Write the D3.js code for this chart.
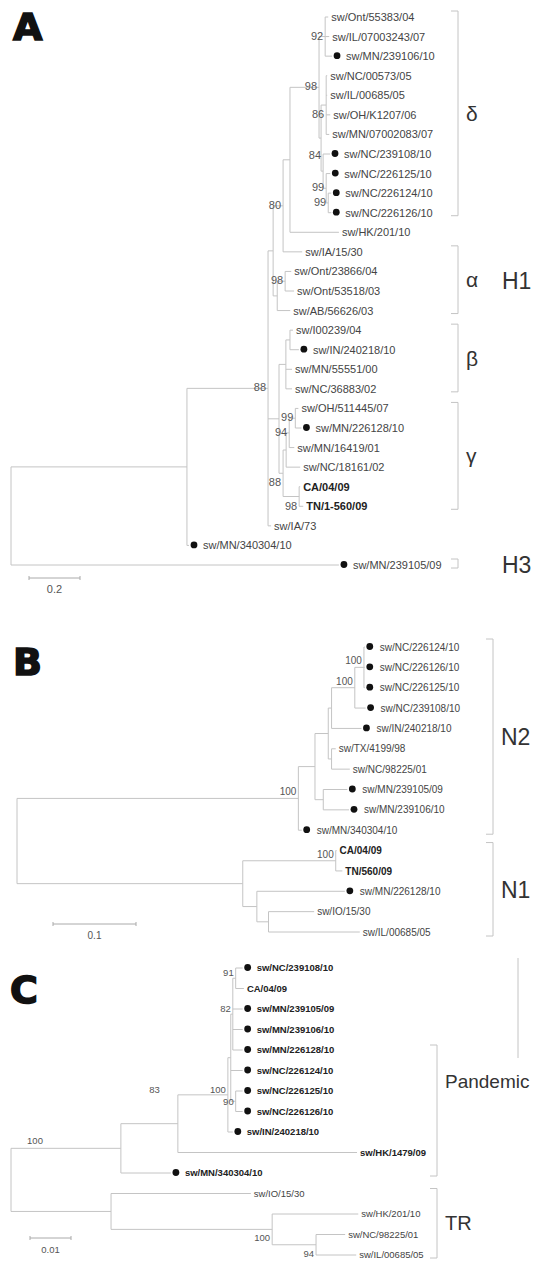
<!DOCTYPE html>
<html><head><meta charset="utf-8">
<script src="https://cdn.jsdelivr.net/npm/d3@7"></script>
<style>body{margin:0;background:#fff}svg{display:block}</style>
</head><body>
<svg id="c" width="539" height="1262"></svg>
<script>
// ---------------- Panel A (H1 / H3) ----------------
const aIds = ["R","a187","a268","a273","a80","a290","a320","a92",
 "sw/Ont/55383/04","sw/IL/07003243/07","sw/MN/239106/10",
 "ax","a86","sw/NC/00573/05","sw/IL/00685/05","sw/OH/K1207/06","sw/MN/07002083/07",
 "a84","sw/NC/239108/10","a99a","sw/NC/226125/10","a99b","sw/NC/226124/10","sw/NC/226126/10",
 "sw/HK/201/10","sw/IA/15/30",
 "aal","a98b","sw/Ont/23866/04","sw/Ont/53518/03","sw/AB/56626/03",
 "abg","abeta","ab1","sw/I00239/04","sw/IN/240218/10","sw/MN/55551/00","sw/NC/36883/02",
 "a88c","agA","a94","a99g","sw/OH/511445/07","sw/MN/226128/10","sw/MN/16419/01","sw/NC/18161/02",
 "apan","CA/04/09","TN/1-560/09",
 "sw/IA/73","sw/MN/340304/10","sw/MN/239105/09"];
const aParents = ["","R","a187","a268","a273","a80","a290","a320",
 "a92","a92","a92",
 "a320","ax","a86","a86","a86","a86",
 "ax","a84","a84","a99a","a99a","a99b","a99b",
 "a290","a80",
 "a273","aal","a98b","a98b","aal",
 "a268","abg","abeta","ab1","ab1","abeta","abeta",
 "abg","a88c","agA","a94","a99g","a99g","a94","agA",
 "a88c","apan","apan",
 "a268","a187","R"];
const aLengths = [0,0.690,0.318,0.020,0.039,0.027,0.114,0.024,
 0.012,0.016,0.027,
 0.008,0.020,0.004,0.004,0.016,0.012,
 0.008,0.027,0.012,0.016,0.008,0.012,0.012,
 0.192,0.075,
 0.016,0.031,0.024,0.035,0.051,
 0.043,0.027,0.016,0.012,0.035,0.024,0.024,
 0.016,0.012,0.012,0.024,0.012,0.024,0.020,0.055,
 0.063,0.004,0.016,
 0.012,0.008,1.286];
const aSupportNodes = ["a92","a320","a86","a84","a99a","a99b","a80","a98b","a268","a99g","a94","a88c","apan"];
const aSupportValues = [92,98,86,84,99,99,80,98,88,99,94,88,98];
const aDots = ["sw/MN/239106/10","sw/NC/239108/10","sw/NC/226125/10","sw/NC/226124/10","sw/NC/226126/10",
 "sw/IN/240218/10","sw/MN/226128/10","sw/MN/340304/10","sw/MN/239105/09"];
const aBold = ["CA/04/09","TN/1-560/09"];
const aCladeNames = ["δ","α","β","γ",""];
const aCladeFirst = ["sw/Ont/55383/04","sw/IA/15/30","sw/I00239/04","sw/OH/511445/07","sw/MN/239105/09"];
const aCladeLast  = ["sw/NC/226126/10","sw/AB/56626/03","sw/NC/36883/02","TN/1-560/09","sw/MN/239105/09"];
const aGroupNames = ["H1","H3"];
const aGroupFirst = ["sw/Ont/55383/04","sw/MN/239105/09"];
const aGroupLast  = ["sw/MN/340304/10","sw/MN/239105/09"];
const aScaleBar = 0.2;

// ---------------- Panel B (N2 / N1) ----------------
const bIds = ["R","b298","b315","bc","b329","b100b","b100a",
 "sw/NC/226124/10","sw/NC/226126/10","sw/NC/226125/10","sw/NC/239108/10","sw/IN/240218/10",
 "btx","sw/TX/4199/98","sw/NC/98225/01","bmn","sw/MN/239105/09","sw/MN/239106/10","sw/MN/340304/10",
 "b243","b336","CA/04/09","TN/560/09","b257","sw/MN/226128/10","b269","sw/IO/15/30","sw/IL/00685/05"];
const bParents = ["","R","b298","b315","bc","b329","b100b",
 "b100a","b100a","b100a","b100b","b329",
 "bc","btx","btx","b315","bmn","bmn","b298",
 "R","b243","b336","b336","b243","b257","b257","b269","b269"];
const bLengths = [0,0.339,0.020,0.016,0.004,0.028,0.011,
 0.001,0.001,0.001,0.013,0.036,
 0.004,0.005,0.022,0.010,0.029,0.031,0.004,
 0.272,0.112,0.001,0.008,0.017,0.106,0.014,0.055,0.110];
const bSupportNodes = ["b100a","b100b","b298","b336"];
const bSupportValues = [100,100,100,100];
const bDots = ["sw/NC/226124/10","sw/NC/226126/10","sw/NC/226125/10","sw/NC/239108/10","sw/IN/240218/10",
 "sw/MN/239105/09","sw/MN/239106/10","sw/MN/340304/10","sw/MN/226128/10"];
const bBold = ["CA/04/09","TN/560/09"];
const bCladeNames = ["N2","N1"];
const bCladeFirst = ["sw/NC/226124/10","CA/04/09"];
const bCladeLast  = ["sw/MN/340304/10","sw/IL/00685/05"];
const bScaleBar = 0.1;

// ---------------- Panel C ----------------
const cIds = ["R","c121","c178","c100","cbig","c82","c91",
 "sw/NC/239108/10","CA/04/09","sw/MN/239105/09","sw/MN/239106/10","sw/MN/226128/10",
 "sw/NC/226124/10","c90","sw/NC/226125/10","sw/NC/226126/10","sw/IN/240218/10",
 "sw/HK/1479/09","sw/MN/340304/10",
 "ctr","sw/IO/15/30","c272","sw/HK/201/10","c316","sw/NC/98225/01","sw/IL/00685/05"];
const cParents = ["","R","c121","c178","c100","cbig","c82",
 "c91","c91","c82","c82","c82",
 "cbig","cbig","c90","c90","c100",
 "c178","c121",
 "R","ctr","ctr","c272","c272","c316","c316"];
const cLengths = [0,0.0268,0.0139,0.0122,0.0007,0.0005,0.0007,
 0.0017,0.0020,0.0024,0.0024,0.0024,
 0.0029,0.0012,0.0017,0.0017,0.0012,
 0.0437,0.0122,
 0.0244,0.0341,0.0393,0.0210,0.0107,0.0071,0.0098];
const cSupportNodes = ["c91","c82","c90","c100","c178","c121","c272","c316"];
const cSupportValues = [91,82,90,100,83,100,100,94];
const cDots = ["sw/NC/239108/10","sw/MN/239105/09","sw/MN/239106/10","sw/MN/226128/10","sw/NC/226124/10",
 "sw/NC/226125/10","sw/NC/226126/10","sw/IN/240218/10","sw/MN/340304/10"];
const cBold = ["sw/NC/239108/10","CA/04/09","sw/MN/239105/09","sw/MN/239106/10","sw/MN/226128/10",
 "sw/NC/226124/10","sw/NC/226125/10","sw/NC/226126/10","sw/IN/240218/10","sw/HK/1479/09","sw/MN/340304/10"];
const cCladeNames = ["","TR"];
const cCladeFirst = ["sw/MN/226128/10","sw/IO/15/30"];
const cCladeLast  = ["sw/MN/340304/10","sw/IL/00685/05"];
const cGroupNames = ["Pandemic"];
const cGroupFirst = ["CA/04/09"];
const cGroupLast  = ["sw/MN/340304/10"];
const cScaleBar = 0.01;

// ---------------- drawing ----------------
const svg = d3.select("#c");
const LINE = "#c4c4c4", TXT = "#444", FONT = "'Liberation Sans', Arial, sans-serif";

function drawPanel(p) {
  const rows = p.ids.map((id, i) => ({id, parent: p.parents[i], len: p.lengths[i]}));
  const root = d3.stratify().id(d => d.id).parentId(d => d.parent)(rows);
  root.eachBefore(n => { n.dist = n.parent ? n.parent.dist + n.data.len : 0; });
  const leaves = root.leaves();
  const y = d3.scaleLinear().domain([0, leaves.length - 1]).range(p.yRange);
  const byId = new Map();
  leaves.forEach((l, i) => { l.yy = y(i); });
  root.eachAfter(n => { if (n.children) n.yy = (n.children[0].yy + n.children[n.children.length - 1].yy) / 2; byId.set(n.id, n); });
  const x = d3.scaleLinear().domain([0, p.unit]).range([p.x0, p.x0 + p.unitPx]);
  const g = svg.append("g");
  const lines = g.append("g").attr("stroke", LINE).attr("stroke-width", 1).attr("fill", "none");
  lines.selectAll(".h").data(root.descendants().filter(n => n.parent)).join("line")
    .attr("x1", n => x(n.parent.dist)).attr("x2", n => x(n.dist))
    .attr("y1", n => n.yy).attr("y2", n => n.yy);
  lines.selectAll(".v").data(root.descendants().filter(n => n.children)).join("line")
    .attr("x1", n => x(n.dist)).attr("x2", n => x(n.dist))
    .attr("y1", n => n.children[0].yy).attr("y2", n => n.children[n.children.length - 1].yy);
  // leaves
  const lg = g.append("g");
  leaves.forEach(l => {
    const dot = p.dots.includes(l.id);
    const bold = p.bold.includes(l.id);
    const tx = x(l.dist);
    if (dot) lg.append("circle").attr("cx", tx + p.dotGap).attr("cy", l.yy - 0.5).attr("r", p.r).attr("fill", "#111");
    lg.append("text").attr("x", tx + (dot ? p.dotLabelGap : 3)).attr("y", l.yy).attr("dy", "0.36em")
      .attr("font-family", FONT).attr("font-size", p.fs).attr("font-weight", bold ? "bold" : "normal")
      .attr("fill", bold ? "#222" : TXT).text(l.id);
  });
  // supports
  const place = p.place || {};
  p.supN.forEach((id, i) => {
    const n = byId.get(id);
    const k = place[id] || "def";
    let tx = x(n.dist) - 2, ty = n.yy + p.sdy, anchor = "end";
    if (k === "up") ty = n.yy + p.up;
    if (k === "down") ty = n.yy + p.down;
    if (k === "mid") ty = n.yy + p.sfs * 0.36;
    if (k === "top") { tx = x(n.dist) - 18; ty = n.children[0].yy - 2; }
    if (k === "start") { tx = x(n.parent.dist) + 24; anchor = "middle"; ty = n.yy - 4; }
    g.append("text").attr("x", tx).attr("y", ty).attr("text-anchor", anchor)
      .attr("font-family", FONT).attr("font-size", p.sfs).attr("fill", "#555").text(p.supV[i]);
  });
  // clade brackets
  const yOf = name => byId.get(name).yy;
  p.cladeNames.forEach((nm, i) => {
    const y1 = yOf(p.cladeFirst[i]) - p.bTop, y2 = yOf(p.cladeLast[i]) + p.bBot;
    g.append("path").attr("d", `M${p.bx - 7},${y1}H${p.bx}V${y2}H${p.bx - 7}`)
      .attr("stroke", LINE).attr("fill", "none");
    if (nm) g.append("text").attr("x", p.bx + 8).attr("y", (y1 + y2) / 2).attr("dy", "0.36em")
      .attr("font-family", FONT).attr("font-size", p.cfs).attr("fill", "#333").text(nm);
  });
  (p.groupNames || []).forEach((nm, i) => {
    const yc = (yOf(p.groupFirst[i]) + yOf(p.groupLast[i])) / 2;
    g.append("text").attr("x", p.gx).attr("y", yc).attr("dy", "0.36em")
      .attr("font-family", FONT).attr("font-size", p.gfs).attr("fill", "#333").text(nm);
  });
  // scale bar
  const sb = p.sb;
  const sx0 = p.sbx, sx1 = p.sbx + (x(sb) - x(0));
  g.append("path").attr("d", `M${sx0},${p.sby - 2}V${p.sby + 2}M${sx0},${p.sby}H${sx1}M${sx1},${p.sby - 2}V${p.sby + 2}`)
    .attr("stroke", "#aaa").attr("fill", "none");
  g.append("text").attr("x", (sx0 + sx1) / 2).attr("y", p.sby + 15).attr("text-anchor", "middle")
    .attr("font-family", FONT).attr("font-size", p.sfs).attr("fill", "#555").text(sb);
  // panel letter
  g.append("text").attr("x", p.lx).attr("y", p.ly).attr("font-family", "'DejaVu Sans', sans-serif")
    .attr("font-weight", "bold").attr("font-size", 38).attr("fill", "#111")
    .attr("stroke", "#111").attr("stroke-width", 1.6).text(p.letter);
  return byId;
}

drawPanel({ids: aIds, parents: aParents, lengths: aLengths, supN: aSupportNodes, supV: aSupportValues,
  dots: aDots, bold: aBold, cladeNames: aCladeNames, cladeFirst: aCladeFirst, cladeLast: aCladeLast,
  groupNames: aGroupNames, groupFirst: aGroupFirst, groupLast: aGroupLast,
  yRange: [17, 565], unit: 1, unitPx: 255, x0: 11, fs: 11, sfs: 11, cfs: 21, gfs: 23,
  sdy: 3, up: -12, down: 13, place: {a84: "up", a86: "down", a88c: "down", apan: "down"},
  dotGap: 5, r: 3.4, dotLabelGap: 14, bx: 458, bTop: 6, bBot: 3, gx: 502,
  sb: aScaleBar, sbx: 29, sby: 578, letter: "A", lx: 13, ly: 40});

drawPanel({ids: bIds, parents: bParents, lengths: bLengths, supN: bSupportNodes, supV: bSupportValues,
  dots: bDots, bold: bBold, cladeNames: bCladeNames, cladeFirst: bCladeFirst, cladeLast: bCladeLast,
  yRange: [647, 932], unit: 0.1, unitPx: 83, x0: 17, fs: 10, sfs: 10, cfs: 23,
  sdy: -3, up: -3, down: 10,
  dotGap: 5, r: 3.4, dotLabelGap: 15, bx: 493, bTop: 8, bBot: 4,
  sb: bScaleBar, sbx: 53, sby: 924, letter: "B", lx: 13, ly: 675});

const cMap = drawPanel({ids: cIds, parents: cParents, lengths: cLengths, supN: cSupportNodes, supV: cSupportValues,
  dots: cDots, bold: cBold, cladeNames: cCladeNames, cladeFirst: cCladeFirst, cladeLast: cCladeLast,
  groupNames: cGroupNames, groupFirst: cGroupFirst, groupLast: cGroupLast,
  yRange: [968, 1255], unit: 0.01, unitPx: 41, x0: 11, fs: 9.5, sfs: 9.5, cfs: 20, gfs: 19,
  sdy: -2, up: -2, down: 12, place: {c90: "mid", c272: "down", c316: "down", c178: "top", c121: "start"},
  dotGap: 5, r: 3.4, dotLabelGap: 14, bx: 437, bTop: 5, bBot: 3, gx: 445,
  sb: cScaleBar, sbx: 30, sby: 1238, letter: "C", lx: 10, ly: 1003});
// extra plain line over the upper pandemic members
svg.append("line").attr("x1", 518).attr("x2", 518)
  .attr("y1", cMap.get("sw/NC/239108/10").yy - 10).attr("y2", cMap.get("sw/MN/226128/10").yy + 8)
  .attr("stroke", LINE);
</script>
</body></html>
